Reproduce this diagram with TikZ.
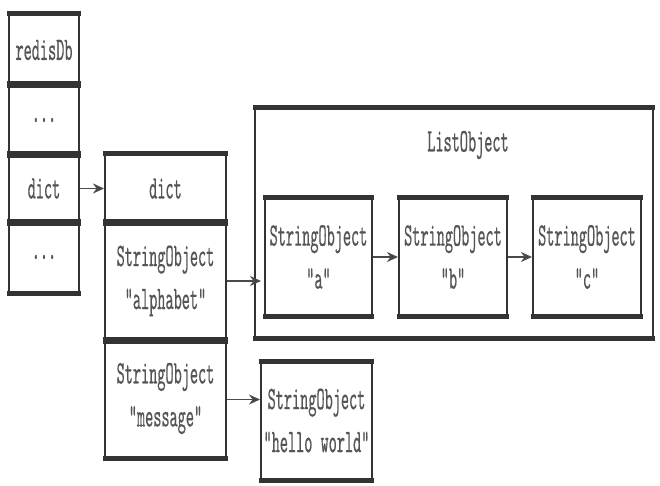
\documentclass[tikz,border=0pt]{standalone}
\usepackage{fontspec}
\newfontfamily\boxfont{lmmono10-regular.otf}[FakeStretch=0.47,FakeBold=0.4]
\usetikzlibrary{arrows.meta}
\definecolor{edge}{HTML}{333333}
\definecolor{txt}{HTML}{555555}
\definecolor{arr}{HTML}{4A4A4A}
\begin{document}
\begin{tikzpicture}[x=1pt,y=-1pt,
  cell/.style={rectangle, draw=edge, line width=2pt, inner sep=0pt,
    text=txt, align=center, font=\boxfont\fontsize{33}{43}\selectfont},
  sz/.style 2 args={minimum width=#1pt, minimum height=#2pt},
  thickedge/.style={draw=edge, line width=5pt},
  link/.style={draw=arr, line width=1.6pt, -{Stealth[length=11pt,width=10pt,fill=edge]}},
  lbl/.style={inner sep=0pt, text=txt, font=\boxfont\fontsize{33}{43}\selectfont}]
\useasboundingbox (0,0) rectangle (660,486);
% redisDb column
\node[cell, sz={70}{70}] (r1) at (44,50) {redisDb};
\node[cell, sz={70}{70}] (r2) at (44,120) {...};
\node[cell, sz={70}{67}] (r3) at (44,188.5) {dict};
\node[cell, sz={70}{70}] (r4) at (44,257) {...};
% dict column
\node[cell, sz={121}{67}] (d1) at (165.5,188.5) {dict};
\node[cell, sz={121}{118}] (d2) at (165.5,281) {StringObject\\"alphabet"};
\node[cell, sz={121}{117}] (d3) at (165.5,398.5) {StringObject\\"message"};
% list object
\node[cell, sz={398}{228}] (list) at (454,223) {};
\node[lbl] (ltitle) at (468,145) {ListObject};
\node[cell, sz={107}{116}] (la) at (318.5,257) {StringObject\\"a"};
\node[cell, sz={108}{116}] (lb) at (453,257) {StringObject\\"b"};
\node[cell, sz={108}{116}] (lc) at (587,257) {StringObject\\"c"};
% hello world
\node[cell, sz={111}{117}] (hw) at (316.5,420.5) {StringObject\\"hello world"};
% thick top and bottom edges
\foreach \n in {r1,r2,r3,r4,d1,d2,d3,list,la,lb,lc,hw}{
  \draw[thickedge] ([xshift=-1pt]\n.north west) -- ([xshift=1pt]\n.north east);
  \draw[thickedge] ([xshift=-1pt]\n.south west) -- ([xshift=1pt]\n.south east);
}
% connectors
\draw[link] (r3.east) -- (d1.west);
\draw[link] (d2.east) -- ([xshift=7pt]d2.east -| list.west);
\draw[link] (la.east) -- (lb.west);
\draw[link] (lb.east) -- (lc.west);
\draw[link] ([yshift=-1pt]d3.east) -- ([yshift=-1pt]d3.east -| hw.west);
\end{tikzpicture}
\end{document}
